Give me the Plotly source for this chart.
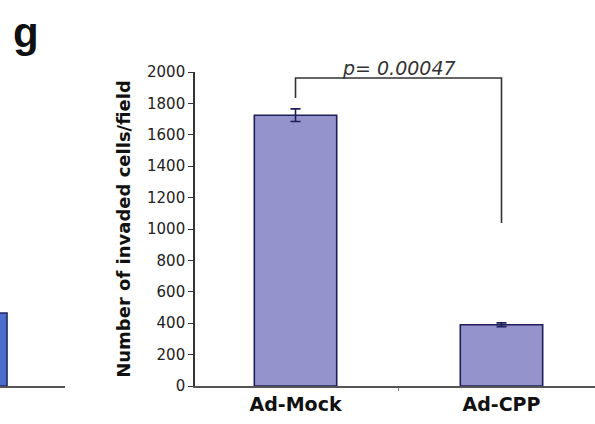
import plotly.graph_objects as go

categories = ["Ad-Mock", "Ad-CPP"]
values = [1725, 390]
errors = [40, 12]
left_panel_value = [465]
p_text = "p= 0.00047"
y_ticks = [0, 200, 400, 600, 800, 1000, 1200, 1400, 1600, 1800, 2000]
bracket_y = [1834, 1962, 1962, 1038]

fig = go.Figure()

fig.add_trace(go.Bar(
    x=categories, y=values, width=0.4,
    marker=dict(color="#9593CB", line=dict(color="#1E1E5A", width=1.6)),
    error_y=dict(type="data", array=errors, color="#1E1E5A", thickness=1.6, width=5),
    xaxis="x", yaxis="y", showlegend=False,
))

# partial neighbouring panel at the left edge
fig.add_trace(go.Bar(
    x=[0], y=left_panel_value, width=0.4,
    marker=dict(color="#4D6DCC", line=dict(color="#1E2A60", width=1.6)),
    xaxis="x2", yaxis="y", showlegend=False,
))

# significance bracket
fig.add_trace(go.Scatter(
    x=[categories[0], categories[0], categories[1], categories[1]],
    y=bracket_y, mode="lines",
    line=dict(color="#333333", width=1.6),
    xaxis="x", yaxis="y", showlegend=False, hoverinfo="skip",
))

fig.add_annotation(
    x=0.5, y=bracket_y[1], xref="x", yref="y", text="<i>" + p_text + "</i>",
    showarrow=False, yanchor="bottom", yshift=-3,
    font=dict(family="DejaVu Sans", size=19, color="#333333"),
)

fig.add_annotation(
    x=11 / 595, y=1.0, xref="paper", yref="paper", text="<b>g</b>",
    showarrow=False, xanchor="left", yanchor="bottom", yshift=14,
    font=dict(family="Liberation Sans", size=42, color="#111111"),
)

fig.update_layout(
    width=595, height=424,
    margin=dict(l=0, r=0, t=72, b=38),
    paper_bgcolor="white", plot_bgcolor="white",
    bargap=0.5,
    xaxis=dict(
        domain=[195 / 595, 1.0], range=[-0.488, 1.454],
        showline=True, linecolor="#555555", linewidth=1.6,
        ticks="outside", tickson="boundaries", ticklen=3, tickcolor="#777777",
        showgrid=False, zeroline=False,
        tickfont=dict(family="DejaVu Sans", size=19, color="#111111", weight="bold"),
        anchor="y",
    ),
    xaxis2=dict(
        domain=[0, 65 / 595], range=[0.1, 1.029],
        showline=True, linecolor="#555555", linewidth=1.6,
        showticklabels=False, ticks="", showgrid=False, zeroline=False,
        anchor="y",
    ),
    yaxis=dict(
        range=[0, 2000], tickvals=y_ticks,
        showline=True, linecolor="#333333", linewidth=1.6,
        ticks="outside", ticklen=5, tickcolor="#333333",
        showgrid=False, zeroline=False,
        tickfont=dict(family="DejaVu Sans", size=15, color="#222222"),
        title=dict(text="<b>Number of invaded cells/field</b>", standoff=12,
                   font=dict(family="DejaVu Sans", size=18, color="#111111")),
        anchor="x",
    ),
)

fig.write_html("out.html")
